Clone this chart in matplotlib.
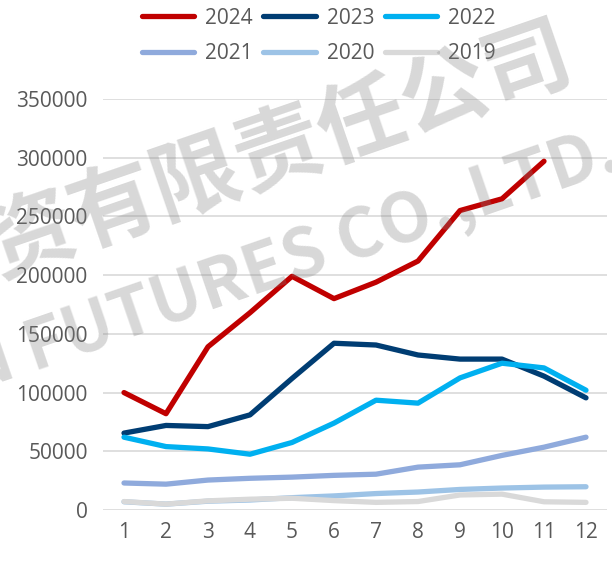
import matplotlib
matplotlib.use("Agg")
import matplotlib.pyplot as plt
from matplotlib.lines import Line2D

# monthly values
months = list(range(1, 13))
y2024 = [100000, 82000, 139000, 168000, 199000, 180000, 194000, 212000, 255000, 265000, 297000]
y2023 = [65500, 72000, 71000, 81000, 112000, 142000, 140500, 132000, 128500, 128500, 114000, 95500]
y2022 = [62000, 54000, 52000, 47500, 57500, 74000, 93500, 91000, 112500, 125000, 121000, 102000]
y2021 = [23000, 22000, 25500, 27000, 28000, 29500, 30500, 36500, 38500, 46500, 53500, 62000]
y2020 = [7000, 5000, 7500, 8500, 10500, 12000, 14000, 15300, 17500, 18700, 19500, 19800]
y2019 = [7200, 5000, 7800, 9200, 10000, 8000, 6500, 7200, 12800, 13500, 7000, 6500]

series = [("2024", y2024, "#C00000"),
          ("2023", y2023, "#003D73"),
          ("2022", y2022, "#00B0F0"),
          ("2021", y2021, "#8FAADC"),
          ("2020", y2020, "#9DC3E6"),
          ("2019", y2019, "#D9D9D9")]

plt.rcParams['font.family'] = ['Open Sans', 'DejaVu Sans']

W, H = 612, 562
fig = plt.figure(figsize=(W / 100, H / 100), dpi=100)
ax = fig.add_axes([103 / W, 1 - 510 / H, (607 - 103) / W, (510 - 99) / H])

handles = {}
for name, vals, col in series:
    ln, = ax.plot(months[:len(vals)], vals, color=col, lw=3.8,
                  solid_capstyle='round', solid_joinstyle='round', label=name)
    handles[name] = ln

# keep 2024 on top of everything
for name in ["2023", "2022"]:
    handles[name].set_zorder(3)
handles["2024"].set_zorder(4)

ax.set_xlim(0.5, 12.5)
ax.set_ylim(0, 350000)
ax.set_xticks(months)
ax.set_yticks(range(0, 350001, 50000))
ax.grid(axis='y', color='#D9D9D9', lw=1.2)
ax.set_axisbelow(True)
for s in ax.spines.values():
    s.set_visible(False)
ax.tick_params(length=0, labelsize=15, colors='#595959')
ax.tick_params(axis='y', pad=11)
ax.tick_params(axis='x', pad=9)

order = ["2024", "2021", "2023", "2020", "2022", "2019"]
leg_h = [Line2D([0], [0], color=handles[n].get_color(), lw=3.8, solid_capstyle='round') for n in order]
fig.legend(leg_h, order, ncol=3, loc='upper center', bbox_to_anchor=(319 / W, 1.0 + 5 / H),
           frameon=False, fontsize=15, labelcolor='#595959', handlelength=2.5,
           handletextpad=0.55, columnspacing=0.5, labelspacing=0.7, borderpad=0.1)

# watermark
wm = dict(color='#7F7F7F', alpha=0.3, rotation=19, rotation_mode='anchor',
          ha='left', va='center', fontweight='bold', zorder=10)
fig.text(-10 / W, 1 - 252 / H, "资有限责任公司", fontsize=63,
         family=['Noto Sans CJK SC'], **wm)
fig.text(-36 / W, 1 - 374 / H, "N FUTURES CO.,LTD.", fontsize=49,
         family=['Noto Sans CJK SC'], **wm)

fig.savefig("out.png", dpi=100)
